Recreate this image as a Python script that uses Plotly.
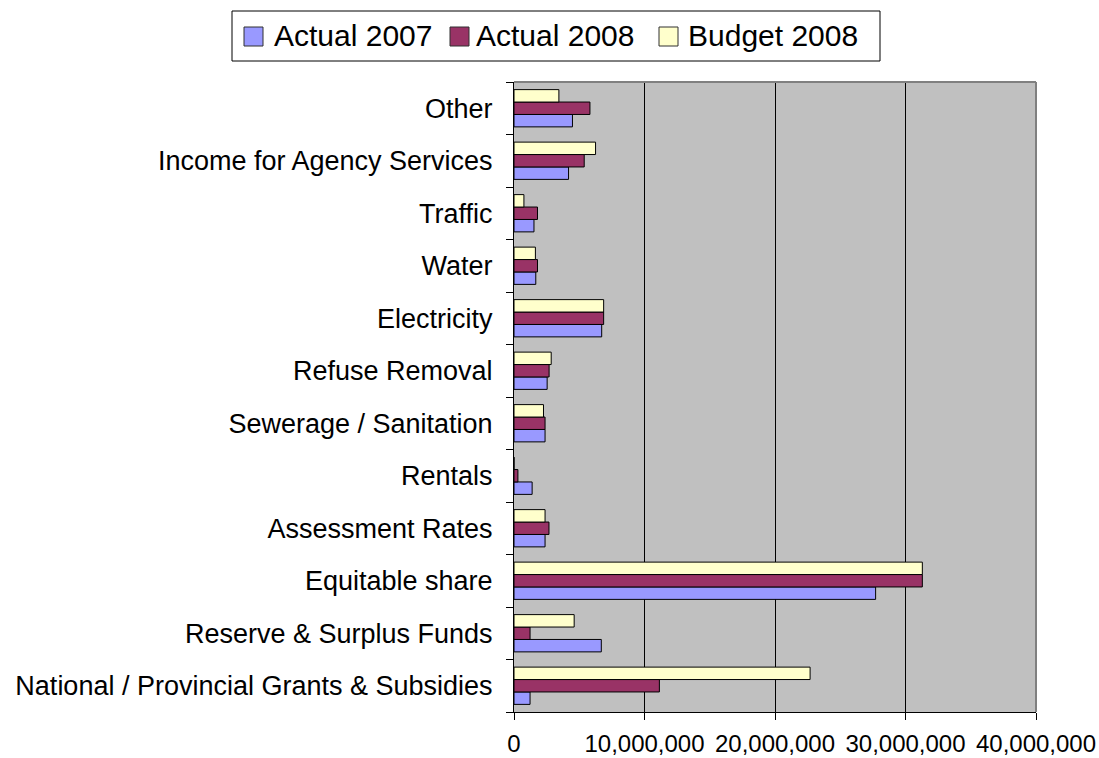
import plotly.graph_objects as go

categories = [
    "National / Provincial Grants & Subsidies",
    "Reserve & Surplus Funds",
    "Equitable share",
    "Assessment Rates",
    "Rentals",
    "Sewerage / Sanitation",
    "Refuse Removal",
    "Electricity",
    "Water",
    "Traffic",
    "Income for Agency Services",
    "Other",
]

actual_2007 = [1230000, 6690000, 27710000, 2380000, 1390000, 2380000,
               2540000, 6720000, 1670000, 1530000, 4180000, 4480000]
actual_2008 = [11140000, 1230000, 31290000, 2680000, 300000, 2380000,
               2690000, 6870000, 1800000, 1800000, 5380000, 5820000]
budget_2008 = [22690000, 4610000, 31290000, 2380000, 0, 2260000,
               2850000, 6870000, 1640000, 760000, 6250000, 3440000]

x_ticks = [0, 10000000, 20000000, 30000000, 40000000]
x_tick_labels = ["0", "10,000,000", "20,000,000", "30,000,000", "40,000,000"]

series = [
    ("Actual 2007", actual_2007, "#9999FF"),
    ("Actual 2008", actual_2008, "#993366"),
    ("Budget 2008", budget_2008, "#FFFFCC"),
]

W, H = 1099, 758
ML, MR, MT, MB = 514, 63, 82, 46
PW, PH = W - ML - MR, H - MT - MB


def px(x):
    return (x - ML) / PW


def py(y):
    return (H - MB - y) / PH


font_family = "Liberation Sans, Arial, sans-serif"

fig = go.Figure()
for name, values, color in series:
    fig.add_trace(go.Bar(
        y=categories, x=values, name=name, orientation="h",
        marker=dict(color=color, line=dict(color="#000000", width=1)),
        showlegend=False,
    ))

# Boxed legend drawn above the plot area
shapes = [
    dict(type="rect", xref="paper", yref="paper",
         x0=px(232), x1=px(880), y0=py(61), y1=py(11),
         line=dict(color="#000000", width=1), fillcolor="#FFFFFF"),
]
annotations = []
legend_items = [(244, 272), (450, 474), (659, 686)]
for (sq_x, txt_x), (name, _, color) in zip(legend_items, series):
    shapes.append(dict(type="rect", xref="paper", yref="paper",
                       x0=px(sq_x), x1=px(sq_x + 19), y0=py(46), y1=py(27),
                       line=dict(color="#303030", width=1), fillcolor=color))
    annotations.append(dict(text=name, xref="paper", yref="paper",
                            x=px(txt_x), y=py(35), xanchor="left", yanchor="middle",
                            showarrow=False, font=dict(size=30, family=font_family)))

# Plot area border on the top and right sides
shapes += [
    dict(type="line", xref="paper", yref="paper", x0=0, x1=1, y0=1, y1=1,
         line=dict(color="#808080", width=2), layer="above"),
    dict(type="line", xref="paper", yref="paper", x0=1, x1=1, y0=0, y1=1,
         line=dict(color="#808080", width=2), layer="above"),
]

fig.update_layout(
    width=W, height=H,
    margin=dict(l=ML, r=MR, t=MT, b=MB, autoexpand=False),
    paper_bgcolor="#FFFFFF",
    plot_bgcolor="#C0C0C0",
    barmode="group",
    bargap=0.29,
    bargroupgap=0,
    font=dict(family=font_family, size=20, color="#000000"),
    showlegend=False,
    xaxis=dict(
        range=[0, 40000000], tickvals=x_ticks, ticktext=x_tick_labels,
        showgrid=True, gridcolor="#000000", gridwidth=1,
        showline=True, linecolor="#000000", linewidth=1,
        ticks="outside", ticklen=7, tickcolor="#000000",
        ticklabelstandoff=3, zeroline=False, automargin=False,
        tickfont=dict(size=24),
    ),
    yaxis=dict(
        type="category", categoryorder="array", categoryarray=categories,
        showline=True, linecolor="#000000", linewidth=1,
        ticks="outside", ticklen=7, tickcolor="#000000", tickson="boundaries",
        ticklabelstandoff=15, showgrid=False, automargin=False,
        tickfont=dict(size=27),
    ),
    shapes=shapes,
    annotations=annotations,
)

fig.write_html("out.html")
